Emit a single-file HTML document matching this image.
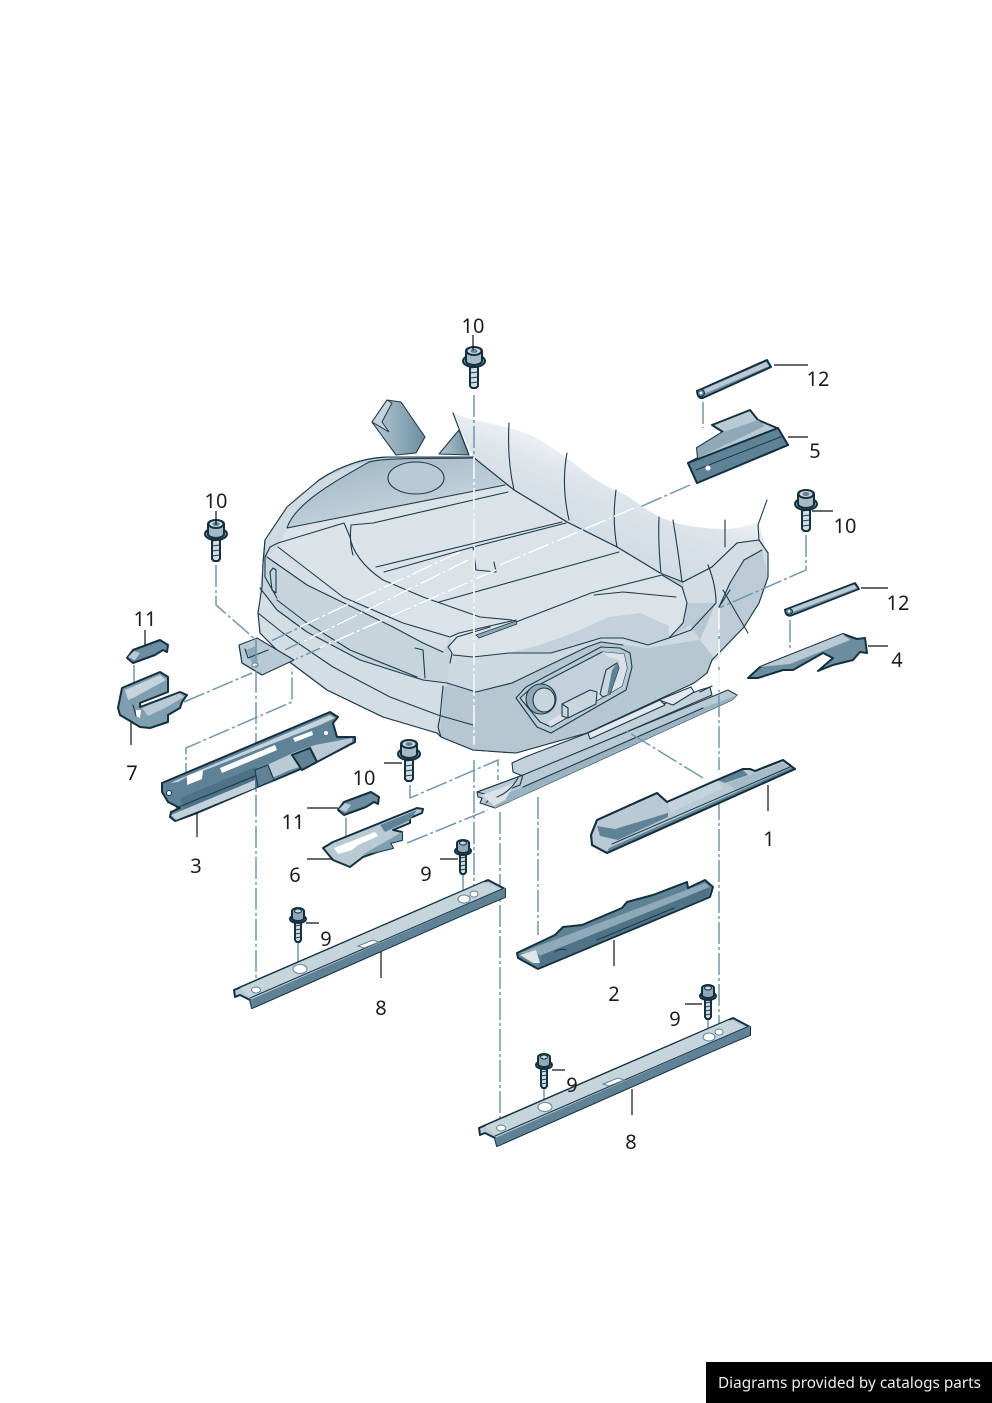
<!DOCTYPE html>
<html><head><meta charset="utf-8"><style>
html,body{margin:0;padding:0;background:#fff}
svg{display:block}
text{font-family:"Noto Sans","Noto Sans CJK JP","DejaVu Sans",sans-serif;font-size:20px;fill:#1a1a1a;text-anchor:middle}
.o{stroke:#14303f;stroke-width:2;stroke-linejoin:round;stroke-linecap:round}
.t{stroke:#1d3a4a;stroke-width:1.1;stroke-linejoin:round;stroke-linecap:round}
.t:not([fill]){fill:none}
.l{fill:none;stroke:#111;stroke-width:1.2}
.d{fill:none;stroke:#7198ad;stroke-width:1.5;stroke-dasharray:22 3 3 3}
.w{fill:none;stroke:#fff;stroke-width:1.6;stroke-dasharray:22 3 3 3}
.m{fill:#5f8296}
</style></head><body>
<svg width="992" height="1403" viewBox="0 0 992 1403" xmlns="http://www.w3.org/2000/svg">
<defs>
<linearGradient id="back" gradientUnits="userSpaceOnUse" x1="590" y1="450" x2="555" y2="540"><stop offset="0" stop-color="#f2f4f6"/><stop offset=".35" stop-color="#dde4ea"/><stop offset="1" stop-color="#cfdae2"/></linearGradient>
<linearGradient id="tab" x1="0" y1="0" x2="1" y2="0"><stop offset="0" stop-color="#b9cad4"/><stop offset="1" stop-color="#6c8da0"/></linearGradient>
<linearGradient id="top" gradientUnits="userSpaceOnUse" x1="380" y1="455" x2="395" y2="525"><stop offset="0" stop-color="#a3b9c6"/><stop offset="1" stop-color="#c9d6de"/></linearGradient>
<g id="bolt">
<path class="o" d="M-4 8h8v25l-2 2h-4l-2-2z" fill="#d3dde4"/>
<path class="t" d="M-4 15l8-1M-4 20l8-1M-4 25l8-1M-4 30l8-1" stroke-width=".8"/>
<ellipse class="o" cx="0" cy="8" rx="11" ry="6" fill="#7f9eb0"/>
<path class="o" d="M-8-2a8 4 0 0 1 16 0v10a8 4 0 0 1-16 0z" fill="#a6bbc8"/>
<ellipse class="o" cx="0" cy="-2" rx="7.5" ry="4" fill="#c9d6de"/>
<ellipse cx="0" cy="-2" rx="3.5" ry="2" fill="#5f8296"/>
</g>
<g id="bolt9">
<path class="o" d="M-3 6h6v20l-1.5 2h-3l-1.5-2z" fill="#d3dde4"/>
<path class="t" d="M-3 12l6-1M-3 16l6-1M-3 20l6-1M-3 24l6-1" stroke-width=".8"/>
<ellipse class="o" cx="0" cy="5" rx="8" ry="4" fill="#7f9eb0"/>
<path class="o" d="M-6-3a6 3 0 0 1 12 0v7a6 3 0 0 1-12 0z" fill="#8fa9b9"/>
<ellipse cx="0" cy="-3" rx="3.5" ry="2" fill="#c9d6de" stroke="#14303f"/>
</g>
<g id="p12">
<path class="o" d="M0 31L70 0l4 7-66 30q-7 4-8-6z" fill="#6c8da0"/>
<path d="M5 30L69 2l3 4L7 34z" fill="#b9cad4"/>
<circle cx="4" cy="33" r="3.5" fill="#5f8296" stroke="#14303f"/><circle cx="4" cy="33" r="1.3" fill="#fff"/>
</g>
<g id="p11">
<path class="o" d="M0 18l6-8 27-10 8 5-1 7-4-2-8 5-22 8z" fill="#6c8da0"/>
<path d="M1 17l6-6 6 2-5 7z" fill="#b9cad4"/>
</g>
<g id="p8">
<path d="M0 110L254 0l17 9v8l-40 17L18 128l-2-8-10-5-5 2z" fill="#b9cad4" class="o"/>
<path d="M18 128l-2-8 255-112v9l-40 17z" class="m"/>
<path d="M6 108L250 2l17 8L17 118z" fill="#c6d4dc"/>
<path class="t" d="M16 118L268 9"/>
<ellipse cx="22" cy="110" rx="4.5" ry="3" fill="#fff" stroke="#5f8296"/>
<ellipse cx="66" cy="89" rx="7" ry="4.5" fill="#fff" stroke="#5f8296"/>
<ellipse cx="230" cy="19" rx="6" ry="4" fill="#fff" stroke="#5f8296"/>
<ellipse cx="240" cy="14" rx="4" ry="3" fill="#fff" stroke="#5f8296"/>
<path d="M124 66l15-6 6 2-15 6z" fill="#fff" stroke="#5f8296"/>
</g>
</defs>

<!-- seat back tab -->
<path class="t" d="M372 422l15-22 14 2 24 35-9 16-20 2z" fill="url(#tab)"/>
<path d="M372 422l15-22 5 3-10 19 7 10z" fill="#c5d3dc" stroke="#1d3a4a"/>
<path class="t" d="M439 454l20-24 10 25z" fill="url(#tab)"/>
<!-- backrest -->
<path d="M453 413C480 425 510 423 540 440S590 480 615 490 650 520 690 526 740 528 759 522L768 560 680 620 500 520 473 457z" fill="url(#back)"/>
<!-- seat body silhouette -->
<path class="t" d="M265 540L287 507 319 480C340 466 365 457 391 457H473L514 490 567 522 617 547 660 573 683 582 712 567 737 543 759 540 768 553V577L759 603 744 627 712 660 707 673 694 683 587 733 516 753 473 750 441 737 437 733 383 717 327 690 287 660 260 633 258 613 262 587 263 563z" fill="#bccbd5"/>
<!-- top arc -->
<path d="M287 528C295 503 337 480 369 462L409 459 473 458 505 485z" fill="url(#top)"/>
<!-- left rim -->
<path d="M265 540L287 507C300 490 340 466 369 462 337 480 295 503 287 528L278 547 267 557z" fill="#cfdae2"/>
<!-- cushion top -->
<path d="M278 547L287 528 505 485 514 490 567 522 617 547 660 573 682 587 687 603 683 623 669 638 648 645 623 638 601 638 551 653 509 653 473 657 451 653 450 637 403 623 343 597z" fill="#dbe3e9"/>
<!-- left side panel -->
<path d="M267 557L278 547 343 597 403 623 450 637 451 653 473 657 476 692 447 683 423 680 360 660 307 632 277 610 260 588 263 563z" fill="#c6d4dc"/>
<path d="M267 557L278 547 343 597 403 623 450 637 443 652 423 643 393 627 307 585z" fill="#d6dfe6"/>
<path d="M260 588L277 610 307 632 360 660 423 680 447 683 441 717 438 727 437 733 383 717 327 690 287 660 260 633 258 613z" fill="#d3dde4"/>
<!-- right lower -->
<path d="M443 686L476 692 512 683 587 647 601 642 623 645 648 648 690 625 716 603 768 560V577L759 603 744 627 712 660 707 673 694 683 587 733 516 753 473 750 441 737z" fill="#b6c7d2"/>
<path d="M451 653L473 657 509 653 551 653 601 638 623 638 648 645 669 638 690 625 700 640 648 648 623 645 601 642 587 647 512 683 476 692 447 683z" fill="#cdd9e1"/>
<!-- right bolster -->
<path d="M683 582L712 567 737 543 759 540 768 553V577L759 603 744 627 716 660 700 640 716 603 687 603z" fill="#d4dde4"/>
<path d="M719 607L730 583 744 560 762 550 768 577 759 603 744 627 720 650z" fill="#bccbd5"/>
<!-- bolster shade -->
<path d="M573 633L609 617 640 613 669 626 669 638 648 645 623 638 601 638 551 653 509 653 540 645z" fill="#c3d1da"/>
<!-- seams -->
<path class="t" d="M265 540L287 507 319 480C340 466 365 457 391 457H473L514 490 567 522 617 547 660 573"/>
<path class="t" d="M453 413L469 455M509 423Q507 460 514 490M567 453Q561 485 569 520M616 490Q612 520 617 547M659 517Q658 545 661 573M673 520Q678 550 682 582M725 520V547M767 500L758 525 759 540"/>
<path class="t" d="M287 528L505 485M287 528C295 503 337 480 369 462 390 457 430 459 473 458"/>
<ellipse class="t" cx="416" cy="478" rx="28" ry="16" fill="#b9cad4"/>
<path class="t" d="M270 547L278 543 344 523 350 537C352 550 362 566 383 580L423 597 480 617 512 620M351 525C350 535 350 545 353 555M351 525L373 523 508 492"/>
<path class="t" d="M376 567L562 522M384 572L473 547 566 523M439 602L619 552"/>
<path class="t" d="M473 547L476 570 496 572 494 562"/>
<path class="t" d="M278 547L343 597 403 623 450 637 459 633 516 620M450 663L452 653 448 647 457 637 490 627M516 622L573 600 591 593 662 575 682 587 687 603 683 623 669 638 648 645 623 638 601 638 551 653 509 653 473 657 453 655"/>
<path d="M476 635l40-14 1 3-38 14z" fill="#8fa9b9" stroke="#1d3a4a" stroke-width=".8"/>
<path class="t" d="M594 595L623 592 676 597"/>
<path class="t" d="M683 582L712 567 737 543 759 540 768 553V577L759 603 744 627 712 660 707 673M716 603L691 630 669 638M719 607L730 583 744 560 762 550M723 590L748 633M719 607L730 590"/>
<path class="t" d="M708 565Q716 585 716 603"/>
<!-- panel bevel lines -->
<path class="t" d="M267 557L307 585 393 627 423 643 443 652M265 557V577L277 598M277 600L307 623 350 650 417 677"/>
<path class="t" d="M260 588L277 610 307 632 360 660 423 680 447 683 476 692 512 683 587 647 601 642 623 645"/>
<path class="t" d="M258 613L283 633 333 667 390 697 438 715 473 725"/>
<path class="t" d="M265 540L263 563 262 587 258 613 260 633 287 660 327 690 383 717 437 733 441 737 473 750 516 753 587 733 694 683 707 673"/>
<path class="t" d="M443 686L440 717 438 727 441 737M415 648L423 650 425 678M273 568L276 570V593L272 590 270 572z"/>
<path class="t" d="M265 557L270 547"/>
<!-- control panel -->
<path class="t" d="M516 698L526 687 601 647 620 648 630 653 632 667 626 690 551 733 537 727z" fill="#b9cad4"/>
<path class="t" d="M520 698L529 690 602 652 624 654 627 668 622 686 551 727 540 722z" fill="#c3d1da"/>
<path d="M550 727L622 686 627 668 624 654 602 652 608 657 620 660 616 680 548 722z" fill="#dbe3e9"/>
<ellipse class="t" cx="541" cy="699" rx="15" ry="15" fill="#8fa9b9"/>
<ellipse class="t" cx="544" cy="700" rx="11" ry="12" fill="#c9d6de"/>
<path class="t" d="M562 704L590 690 597 692 596 704 568 718 562 716z" fill="#c9d6de"/>
<path class="t" d="M562 704L568 708 568 718"/>
<path class="t" d="M600 694L606 670 617 663 619 668 610 694 603 697z" fill="#c9d6de"/>
<path class="m" d="M617 663l2 5-9 26-3 2 5-26z"/>

<!-- seat rails -->
<path class="t" d="M512 763L525 757 700 690 710 687 712 695 543 768 525 777 513 772z" fill="#c3d1da"/>
<path class="t" d="M477 792L523 775 728 690 737 695 732 700 495 808 480 803 482 798 478 797z" fill="#b9cad4"/>
<path d="M495 808L732 700 737 695 703 708 523 787 487 801z" fill="#9bb3c1"/>
<path class="t" d="M477 792L523 775 520 785 492 796zM523 787L703 708M492 796L486 803"/>
<path d="M482 795L515 783 505 800 494 806z" fill="#dbe3e9"/>
<path class="t" d="M497 797Q510 792 518 778"/>
<path class="t" d="M659 700L691 687 694 692 673 705zM588 733L660 700 665 705 590 739z" fill="#e4e9ee"/>
<path class="t" d="M700 692L712 686"/>
<!-- left rail stub -->
<path class="t" d="M239 645L257 638 294 660 262 675 242 663z" fill="#b9cad4"/>
<path d="M246 650L256 646 258 665 252 663z" fill="#8fa9b9"/>
<path class="t" d="M239 645L242 663 262 675M245 649L248 658 268 650"/>
<ellipse cx="255" cy="665" rx="3" ry="2" fill="#fff" stroke="#5f8296"/>

<!-- dash lines over seat -->
<g class="d">
<path d="M474 395V745M474 760V890"/>
<path d="M216 565V605L256 640V990"/>
<path d="M690 485L640 507"/>
<path d="M500 565L634 508"/>
<path d="M460 552L271 641M468 560L285 650M496 570L296 659"/>
<path d="M184 702L252 673"/>
<path d="M186 785V748L292 702V668"/>
<path d="M806 535V570L719 608V770M719 798V1030"/>
<path d="M410 785V798L498 760V780"/>
<path d="M407 843L488 810"/>
<path d="M500 812V1130"/>
<path d="M703 778L625 730"/>
<path d="M538 797V935"/>
<path d="M703 402V428M790 620V650"/>
<path d="M134 665V705"/>
<path d="M346 818V838"/>
<path d="M298 940V965M463 872V895M544 1088V1105M708 1017V1035"/>
</g>
<g class="w">
<path d="M474 457V745M719 608V690M460 552L300 627M468 560L300 643M496 570L320 648M500 565L634 508"/>
</g>

<!-- Part 12 -->
<use href="#p12" x="697" y="360"/>
<g transform="translate(785 583) scale(1 .86)"><use href="#p12"/></g>
<!-- Part 5 -->
<path class="o" d="M688 463L698 458 697 448 723 432 712 425 750 410 758 420 777 428 788 445 697 483z" fill="#b9cad4"/>
<path class="m" d="M688 463L778 428 788 445 697 483z"/>
<path d="M697 448L723 432 758 420 765 426 698 458z" fill="#8fa9b9"/>
<path class="t" d="M688 463L778 428M696 470L783 436"/>
<path class="o" d="M688 463L778 428 788 445 697 483z" fill="none"/>
<circle cx="708" cy="468" r="2.5" fill="#fff"/>
<!-- Part 4 -->
<path class="o" d="M748 678L760 667 843 634 857 639 865 638 867 653 860 652 853 660 833 665 818 671 833 658 823 653 793 670 783 670 758 678z" fill="#6c8da0"/>
<path d="M760 667L843 634 850 640 790 664z" fill="#b9cad4"/>
<!-- Part 1 -->
<path class="o" d="M591 835L597 820 657 793 667 802 717 780 743 769 750 769 755 771 783 760 795 769 607 853 592 845z" fill="#b9cad4"/>
<path d="M597 824L657 795 666 805V815L627 825 609 829z" fill="#b9cad4"/>
<path d="M619 834L666 814 668 816 620 836z" fill="#5f8296"/>
<path d="M597 826L615 829 668 813V817L618 840 600 836z" fill="#5f8296"/>
<path d="M668 802L717 781 723 788 670 813z" fill="#c5d3dc"/>
<path d="M717 780L743 770 748 775 725 783z" fill="#5f8296"/>
<path d="M728 783L782 763 793 769 737 793z" fill="#a6bbc8"/>
<path d="M607 853L795 769 793 767 609 848z" fill="#5f8296"/>
<path class="t" d="M612 844L790 767"/>
<path class="o" d="M591 835L597 820 657 793 667 802 717 780 743 769 750 769 755 771 783 760 795 769 607 853 592 845z" fill="none"/>
<!-- Part 2 -->
<path class="o" d="M517 953L555 935 563 927 582 925 622 908 627 902 653 895 687 882 688 888 705 880 713 887 710 897 538 969 518 958z" fill="#5f8296"/>
<path d="M520 953L705 883 710 887 542 955z" fill="#8fa9b9"/>
<path d="M542 955L710 887 708 897 538 968z" fill="#4f7286"/>
<path d="M520 955L536 950 540 963 533 963z" fill="#dfe6eb"/>
<path class="t" d="M597 940L674 908M555 952Q560 948 566 950"/>
<!-- Part 3 -->
<path class="o" d="M162 783L330 712 338 717 333 723 337 737 355 737 355 742 315 763 275 780 255 788 197 813 175 821 170 817 171 812 180 808 168 802 162 792z" fill="#5f8296"/>
<path d="M170 783L330 715 335 718 320 725 185 778 178 782z" fill="#c5d3dc"/>
<path d="M187 785L202 779 203 770 187 776zM220 768L275 745 277 750 222 773zM293 738L312 731 313 735 295 742z" fill="#fff"/>
<path d="M180 798L255 767 270 775 273 782 255 788 185 812z" fill="#4f7286"/>
<path d="M267 765L295 752 315 745 352 738 352 742 315 762 290 770 272 778z" fill="#b9cad4"/>
<path class="o" d="M292 755L310 748 317 762 302 770z" fill="#5f8296"/>
<path class="t" d="M255 770L268 765 274 780 258 787z" fill="#5f8296"/>
<path d="M171 815L255 780V788L176 820z" fill="#c3d1da"/>
<path class="t" d="M176 808L255 776"/>
<circle cx="169" cy="793" r="2.5" fill="#fff" stroke="#14303f"/>
<circle cx="326" cy="733" r="2" fill="#fff"/>
<!-- Part 7 -->
<path class="o" d="M118 708L122 688 160 672 168 677 168 692 140 703 140 707 180 692 187 695 182 702 180 708 168 715 168 722 150 728 140 727 120 715z" fill="#7f9eb0"/>
<path d="M125 690L160 675 166 680 135 697 128 700z" fill="#c5d3dc"/>
<path d="M142 708L180 693 184 697 165 708 148 716z" fill="#b9cad4"/>
<path d="M136 710l5 0-1 8-4-2z" fill="#fff"/>
<path class="t" d="M133 705L136 716"/>
<!-- Part 11 -->
<use href="#p11" x="127" y="640"/>
<use href="#p11" x="338" y="792"/>
<!-- Part 6 -->
<path class="o" d="M323 848L333 842 417 808 423 809 422 813 410 818 410 823 393 830 402 832 402 840 390 843 393 848 377 852 363 857 350 867 333 860z" fill="#b9cad4"/>
<path d="M334 848L375 832 378 836 358 845 352 850 338 854z" fill="#fff"/>
<path d="M362 855L402 832 402 840 390 843 393 848 377 852z" fill="#7f9eb0"/>
<path d="M380 825L417 810 410 820 385 832z" fill="#5f8296"/>
<!-- Part 8 -->
<use href="#p8" x="234" y="880"/>
<use href="#p8" x="479" y="1018"/>
<!-- Bolts 10 -->
<use href="#bolt" x="474" y="353"/>
<use href="#bolt" x="216" y="526"/>
<use href="#bolt" x="806" y="496"/>
<use href="#bolt" x="409" y="746"/>
<!-- Bolts 9 -->
<use href="#bolt9" x="298" y="914"/>
<use href="#bolt9" x="463" y="846"/>
<use href="#bolt9" x="544" y="1060"/>
<use href="#bolt9" x="708" y="991"/>

<!-- leaders -->
<path class="l" d="M473 335V350M774 365H808M788 437H808M216 511V525M812 511H833M145 630V645M861 588H888M868 646H888M131 722V745M384 763H402M307 808H338M197 812V837M307 859H333M440 859H458M306 923H319M768 785V811M381 952V978M614 940V966M685 1004H702M552 1070H565M632 1089V1115"/>
<!-- labels -->
<text x="473" y="333">10</text>
<text x="818" y="386">12</text>
<text x="815" y="458">5</text>
<text x="216" y="508">10</text>
<text x="845" y="533">10</text>
<text x="145" y="626">11</text>
<text x="898" y="610">12</text>
<text x="897" y="667">4</text>
<text x="132" y="780">7</text>
<text x="364" y="785">10</text>
<text x="293" y="829">11</text>
<text x="196" y="873">3</text>
<text x="295" y="882">6</text>
<text x="426" y="881">9</text>
<text x="326" y="946">9</text>
<text x="769" y="846">1</text>
<text x="381" y="1015">8</text>
<text x="614" y="1001">2</text>
<text x="675" y="1026">9</text>
<text x="572" y="1092">9</text>
<text x="631" y="1149">8</text>

<rect x="706" y="1362" width="286" height="41" fill="#000"/>
<text x="718" y="1388" style="font-size:15px;fill:#eee;text-anchor:start" textLength="263" lengthAdjust="spacingAndGlyphs">Diagrams provided by catalogs parts</text>
</svg>
</body></html>
